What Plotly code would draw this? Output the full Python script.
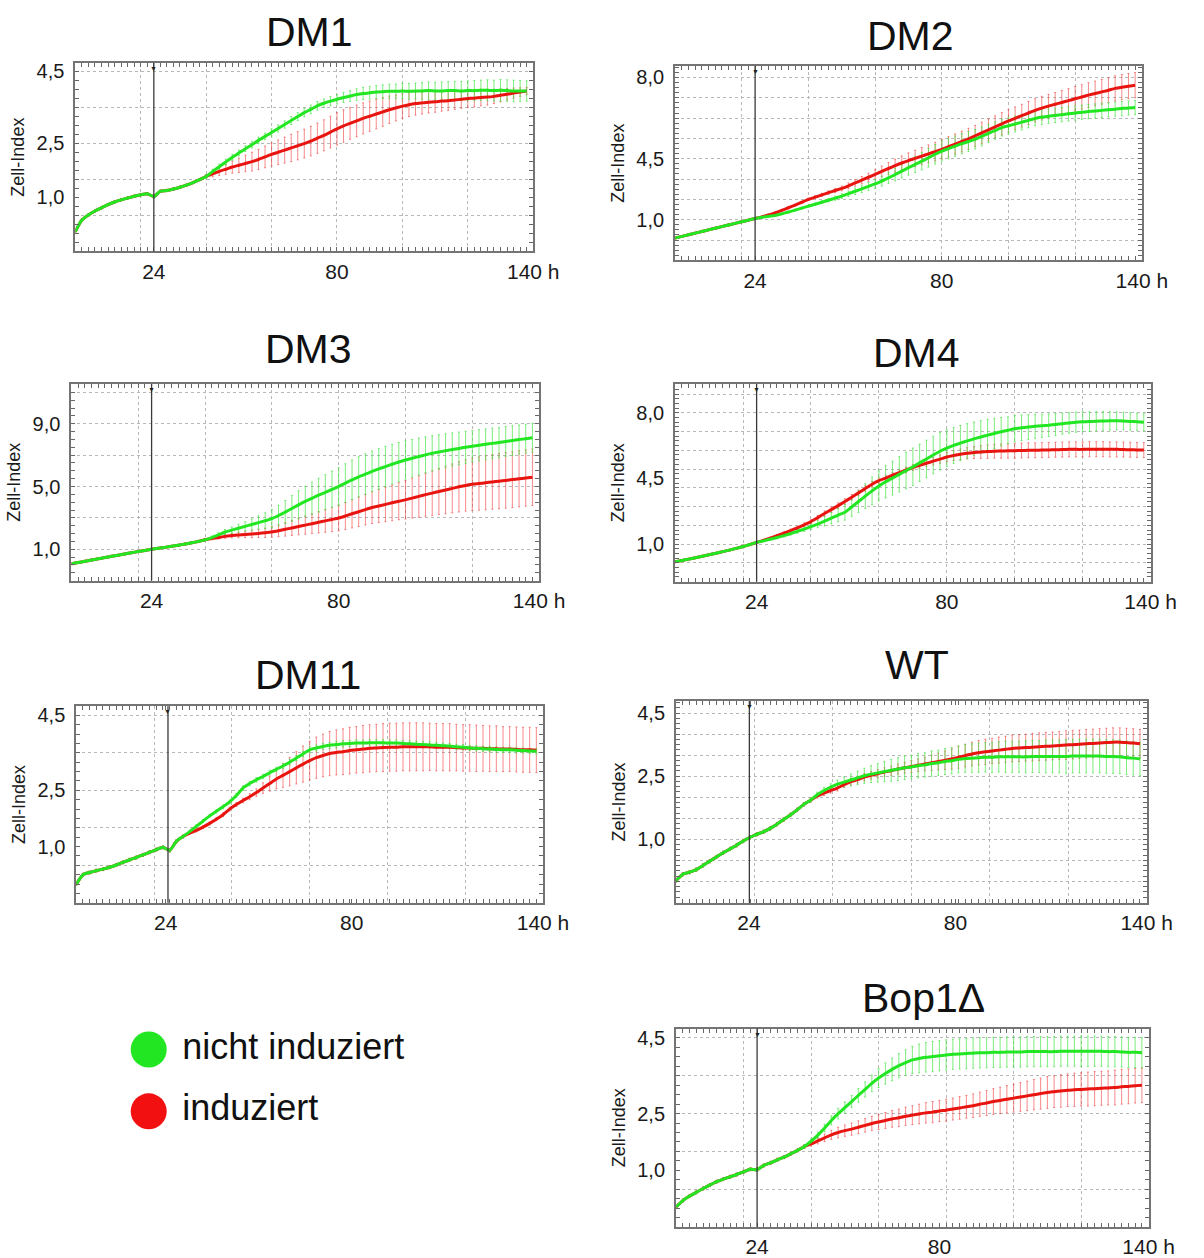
import plotly.graph_objects as go

W, H = 1204, 1258
FONT = "Liberation Sans, Arial, Helvetica, sans-serif"

# ---------------- data ----------------
HOURS = [0, 2, 4, 6, 8, 10, 12, 14, 16, 18,
         20, 22, 24, 26, 28, 30, 32, 34, 36, 38,
         40, 42, 44, 46, 48, 50, 52, 54, 56, 58,
         60, 62, 64, 66, 68, 70, 72, 74, 76, 78,
         80, 82, 84, 86, 88, 90, 92, 94, 96, 98,
         100, 102, 104, 106, 108, 110, 112, 114, 116, 118,
         120, 122, 124, 126, 128, 130, 132, 134, 136, 138]

X_TICK_TEXT = ["24", "80", "140 h"]
LEGEND_LABELS = ["nicht induziert", "induziert"]

# DM1
DM1_EARLY = [0.05, 0.37, 0.51, 0.62, 0.71, 0.80, 0.87, 0.93, 0.98, 1.03,
             1.07, 1.10, 1.02, 1.17, 1.19, 1.23, 1.28, 1.34, 1.41, 1.49,
             1.58]
DM1_GREEN_LATE = [1.72, 1.85, 1.98, 2.11, 2.23, 2.35, 2.46, 2.58, 2.69,
                  2.80, 2.91, 3.02, 3.13, 3.24, 3.35, 3.44, 3.54, 3.61, 3.67,
                  3.72, 3.77, 3.81, 3.85, 3.88, 3.90, 3.92, 3.93, 3.94, 3.94,
                  3.95, 3.94, 3.95, 3.95, 3.96, 3.95, 3.95, 3.96, 3.96, 3.95,
                  3.96, 3.96, 3.97, 3.97, 3.96, 3.97, 3.96, 3.95, 3.95, 3.95]
DM1_RED_LATE = [1.65, 1.72, 1.78, 1.84, 1.89, 1.94, 1.99, 2.05, 2.12,
                2.19, 2.25, 2.31, 2.37, 2.43, 2.49, 2.56, 2.64, 2.72, 2.81,
                2.90, 2.98, 3.05, 3.12, 3.19, 3.25, 3.31, 3.37, 3.43, 3.48,
                3.53, 3.57, 3.60, 3.62, 3.64, 3.65, 3.67, 3.68, 3.70, 3.72,
                3.74, 3.75, 3.77, 3.78, 3.80, 3.83, 3.86, 3.89, 3.92, 3.95]
DM1_GREEN_ERR = [0.03, 0.03, 0.03, 0.03, 0.03, 0.03, 0.03, 0.03, 0.03, 0.03,
                 0.03, 0.03, 0.04, 0.03, 0.03, 0.03, 0.03, 0.03, 0.03, 0.03,
                 0.05, 0.06, 0.07, 0.08, 0.08, 0.08, 0.08, 0.09, 0.09, 0.09,
                 0.10, 0.10, 0.10, 0.11, 0.11, 0.12, 0.12, 0.12, 0.12, 0.13,
                 0.13, 0.14, 0.15, 0.16, 0.17, 0.18, 0.18, 0.19, 0.20, 0.20,
                 0.21, 0.22, 0.22, 0.23, 0.24, 0.24, 0.25, 0.25, 0.26, 0.26,
                 0.27, 0.28, 0.28, 0.29, 0.29, 0.30, 0.30, 0.30, 0.29, 0.28]
DM1_RED_ERR = [0.03, 0.03, 0.03, 0.03, 0.03, 0.03, 0.03, 0.03, 0.03, 0.03,
               0.03, 0.03, 0.04, 0.03, 0.03, 0.03, 0.03, 0.03, 0.03, 0.03,
               0.05, 0.08, 0.11, 0.14, 0.17, 0.20, 0.23, 0.26, 0.28, 0.30,
               0.32, 0.34, 0.36, 0.38, 0.39, 0.40, 0.41, 0.42, 0.43, 0.44,
               0.45, 0.45, 0.44, 0.44, 0.43, 0.42, 0.41, 0.40, 0.38, 0.36,
               0.34, 0.33, 0.32, 0.31, 0.30, 0.29, 0.28, 0.27, 0.26, 0.25,
               0.25, 0.24, 0.23, 0.22, 0.20, 0.18, 0.16, 0.14, 0.12, 0.10]

# DM2
DM2_EARLY = [0.10, 0.18, 0.26, 0.34, 0.42, 0.50, 0.58, 0.66, 0.74, 0.82,
             0.90, 0.98, 1.06]
DM2_RED_LATE = [1.14, 1.23, 1.34, 1.46, 1.59, 1.72, 1.86,
                2.00, 2.11, 2.22, 2.33, 2.44, 2.54, 2.67, 2.81, 2.95, 3.09,
                3.23, 3.38, 3.52, 3.66, 3.79, 3.91, 4.02, 4.13, 4.24, 4.35,
                4.46, 4.59, 4.72, 4.85, 4.98, 5.12, 5.27, 5.42, 5.57, 5.72,
                5.86, 5.99, 6.12, 6.25, 6.38, 6.49, 6.59, 6.68, 6.77, 6.86,
                6.95, 7.04, 7.13, 7.21, 7.29, 7.37, 7.46, 7.52, 7.57, 7.62]
DM2_GREEN_LATE = [1.12, 1.17, 1.21, 1.29, 1.38, 1.47, 1.57,
                  1.67, 1.76, 1.86, 1.96, 2.06, 2.16, 2.28, 2.40, 2.52, 2.64,
                  2.76, 2.90, 3.06, 3.22, 3.39, 3.56, 3.72, 3.88, 4.05, 4.22,
                  4.38, 4.50, 4.62, 4.74, 4.85, 4.96, 5.10, 5.25, 5.39, 5.53,
                  5.62, 5.71, 5.80, 5.89, 5.98, 6.05, 6.09, 6.13, 6.17, 6.21,
                  6.25, 6.29, 6.32, 6.35, 6.38, 6.41, 6.44, 6.47, 6.50, 6.52]
DM2_RED_ERR = [0.04, 0.04, 0.04, 0.04, 0.04, 0.04, 0.04, 0.04, 0.04, 0.04,
               0.04, 0.04, 0.04, 0.04, 0.04, 0.04, 0.05, 0.05, 0.05, 0.05,
               0.06, 0.07, 0.08, 0.09, 0.10, 0.12, 0.14, 0.16, 0.18, 0.20,
               0.23, 0.26, 0.29, 0.32, 0.35, 0.38, 0.40, 0.42, 0.44, 0.46,
               0.48, 0.50, 0.50, 0.51, 0.52, 0.52, 0.53, 0.54, 0.54, 0.55,
               0.55, 0.56, 0.56, 0.57, 0.57, 0.58, 0.58, 0.58, 0.59, 0.59,
               0.60, 0.60, 0.61, 0.61, 0.61, 0.62, 0.62, 0.62, 0.62, 0.62]
DM2_GREEN_ERR = [0.04, 0.04, 0.04, 0.04, 0.04, 0.04, 0.04, 0.04, 0.04, 0.04,
                 0.04, 0.04, 0.04, 0.04, 0.04, 0.04, 0.04, 0.04, 0.05, 0.05,
                 0.05, 0.06, 0.07, 0.08, 0.10, 0.12, 0.14, 0.16, 0.18, 0.20,
                 0.22, 0.25, 0.28, 0.31, 0.34, 0.37, 0.40, 0.43, 0.46, 0.48,
                 0.50, 0.50, 0.50, 0.50, 0.49, 0.48, 0.47, 0.45, 0.43, 0.41,
                 0.40, 0.39, 0.38, 0.37, 0.36, 0.36, 0.35, 0.35, 0.35, 0.35,
                 0.35, 0.35, 0.35, 0.35, 0.35, 0.35, 0.35, 0.35, 0.35, 0.35]

# DM3
DM3_EARLY = [0.07, 0.15, 0.23, 0.31, 0.39, 0.47, 0.55, 0.62, 0.70, 0.78,
             0.85, 0.92, 1.00, 1.06, 1.12, 1.19, 1.26, 1.33, 1.41, 1.50,
             1.60]
DM3_GREEN_LATE = [1.74, 1.92, 2.10, 2.22, 2.34, 2.46, 2.58, 2.70, 2.82,
                  2.95, 3.15, 3.37, 3.60, 3.83, 4.05, 4.25, 4.45, 4.63, 4.82,
                  5.00, 5.22, 5.43, 5.62, 5.79, 5.96, 6.12, 6.27, 6.42, 6.56,
                  6.69, 6.80, 6.91, 7.02, 7.12, 7.20, 7.28, 7.36, 7.43, 7.50,
                  7.57, 7.63, 7.69, 7.75, 7.81, 7.87, 7.93, 7.99, 8.05, 8.11]
DM3_RED_LATE = [1.68, 1.75, 1.82, 1.87, 1.91, 1.94, 1.97, 2.01, 2.05,
                2.10, 2.18, 2.27, 2.36, 2.45, 2.54, 2.63, 2.72, 2.81, 2.90,
                2.99, 3.12, 3.26, 3.39, 3.53, 3.66, 3.76, 3.86, 3.96, 4.06,
                4.15, 4.26, 4.37, 4.48, 4.58, 4.68, 4.78, 4.88, 4.98, 5.07,
                5.14, 5.19, 5.24, 5.29, 5.34, 5.39, 5.44, 5.49, 5.54, 5.59]
DM3_GREEN_ERR = [0.05, 0.05, 0.05, 0.05, 0.05, 0.05, 0.05, 0.05, 0.05, 0.05,
                 0.05, 0.05, 0.05, 0.05, 0.05, 0.05, 0.05, 0.06, 0.06, 0.07,
                 0.08, 0.10, 0.13, 0.16, 0.20, 0.25, 0.30, 0.36, 0.43, 0.50,
                 0.58, 0.66, 0.74, 0.82, 0.90, 0.97, 1.03, 1.08, 1.12, 1.16,
                 1.20, 1.23, 1.26, 1.28, 1.30, 1.30, 1.30, 1.29, 1.27, 1.25,
                 1.22, 1.20, 1.18, 1.15, 1.12, 1.10, 1.08, 1.06, 1.04, 1.02,
                 1.00, 0.99, 0.98, 0.97, 0.96, 0.95, 0.94, 0.93, 0.92, 0.92]
DM3_RED_ERR = [0.05, 0.05, 0.05, 0.05, 0.05, 0.05, 0.05, 0.05, 0.05, 0.05,
               0.05, 0.05, 0.05, 0.05, 0.05, 0.05, 0.05, 0.05, 0.05, 0.05,
               0.06, 0.08, 0.10, 0.12, 0.14, 0.17, 0.20, 0.23, 0.26, 0.30,
               0.34, 0.38, 0.43, 0.48, 0.53, 0.58, 0.63, 0.68, 0.73, 0.78,
               0.82, 0.86, 0.90, 0.94, 0.98, 1.02, 1.06, 1.10, 1.14, 1.18,
               1.22, 1.27, 1.32, 1.37, 1.42, 1.47, 1.52, 1.56, 1.60, 1.64,
               1.67, 1.70, 1.72, 1.74, 1.76, 1.77, 1.78, 1.79, 1.80, 1.80]

# DM4
DM4_EARLY = [0.06, 0.13, 0.20, 0.27, 0.35, 0.43, 0.51, 0.60, 0.68, 0.77,
             0.87, 0.98, 1.09]
DM4_RED_LATE = [1.20, 1.32, 1.45, 1.58, 1.72, 1.87, 2.03,
                2.20, 2.41, 2.63, 2.84, 3.05, 3.27, 3.50, 3.73, 3.96, 4.19,
                4.38, 4.52, 4.67, 4.81, 4.95, 5.08, 5.20, 5.31, 5.42, 5.53,
                5.64, 5.72, 5.79, 5.84, 5.88, 5.91, 5.93, 5.95, 5.96, 5.97,
                5.98, 5.99, 6.00, 6.00, 6.01, 6.02, 6.03, 6.04, 6.05, 6.05,
                6.05, 6.06, 6.06, 6.06, 6.05, 6.05, 6.04, 6.03, 6.02, 6.01]
DM4_GREEN_LATE = [1.17, 1.26, 1.35, 1.45, 1.56, 1.68, 1.80,
                  1.93, 2.07, 2.22, 2.38, 2.55, 2.70, 2.98, 3.27, 3.56, 3.84,
                  4.10, 4.32, 4.52, 4.72, 4.92, 5.12, 5.33, 5.54, 5.75, 5.95,
                  6.12, 6.26, 6.38, 6.50, 6.61, 6.71, 6.81, 6.90, 6.99, 7.07,
                  7.15, 7.20, 7.24, 7.28, 7.31, 7.34, 7.38, 7.42, 7.46, 7.50,
                  7.52, 7.53, 7.55, 7.56, 7.57, 7.57, 7.56, 7.54, 7.52, 7.50]
DM4_GREEN_ERR = [0.04, 0.04, 0.04, 0.04, 0.04, 0.04, 0.04, 0.04, 0.04, 0.04,
                 0.04, 0.04, 0.04, 0.05, 0.05, 0.06, 0.07, 0.08, 0.10, 0.12,
                 0.15, 0.20, 0.25, 0.30, 0.36, 0.42, 0.50, 0.58, 0.66, 0.74,
                 0.80, 0.86, 0.90, 0.94, 0.97, 1.00, 1.00, 1.00, 1.00, 1.00,
                 0.98, 0.96, 0.94, 0.92, 0.90, 0.87, 0.84, 0.80, 0.76, 0.72,
                 0.70, 0.68, 0.66, 0.64, 0.62, 0.60, 0.58, 0.56, 0.55, 0.54,
                 0.53, 0.52, 0.51, 0.50, 0.49, 0.48, 0.47, 0.46, 0.45, 0.45]
DM4_RED_ERR = [0.04, 0.04, 0.04, 0.04, 0.04, 0.04, 0.04, 0.04, 0.04, 0.04,
               0.04, 0.04, 0.04, 0.05, 0.05, 0.06, 0.07, 0.08, 0.09, 0.10,
               0.10, 0.12, 0.14, 0.15, 0.15, 0.15, 0.15, 0.15, 0.15, 0.15,
               0.15, 0.15, 0.15, 0.15, 0.15, 0.15, 0.16, 0.18, 0.20, 0.22,
               0.24, 0.26, 0.28, 0.30, 0.32, 0.34, 0.36, 0.37, 0.38, 0.39,
               0.40, 0.40, 0.40, 0.40, 0.40, 0.40, 0.40, 0.40, 0.40, 0.40,
               0.40, 0.40, 0.40, 0.40, 0.40, 0.40, 0.40, 0.40, 0.40, 0.40]

# DM11
DM11_EARLY = [0.00, 0.25, 0.31, 0.36, 0.40, 0.45, 0.51, 0.58, 0.65, 0.71,
              0.78, 0.85, 0.92, 0.98, 0.90, 1.14, 1.27]
DM11_GREEN_LATE = [1.40, 1.54, 1.68,
                   1.82, 1.94, 2.06, 2.19, 2.36, 2.56, 2.68, 2.78, 2.87, 2.97,
                   3.06, 3.15, 3.25, 3.36, 3.47, 3.58, 3.63, 3.67, 3.70, 3.72,
                   3.74, 3.75, 3.76, 3.76, 3.77, 3.77, 3.77, 3.76, 3.76, 3.75,
                   3.74, 3.73, 3.72, 3.71, 3.70, 3.69, 3.68, 3.66, 3.65, 3.63,
                   3.62, 3.61, 3.60, 3.59, 3.58, 3.58, 3.57, 3.56, 3.55, 3.54]
DM11_RED_LATE = [1.36, 1.43, 1.52,
                 1.62, 1.73, 1.85, 2.00, 2.12, 2.23, 2.33, 2.44, 2.56, 2.68,
                 2.80, 2.90, 3.00, 3.10, 3.20, 3.29, 3.37, 3.43, 3.48, 3.51,
                 3.53, 3.56, 3.58, 3.60, 3.62, 3.63, 3.64, 3.65, 3.65, 3.66,
                 3.66, 3.66, 3.66, 3.66, 3.65, 3.65, 3.65, 3.64, 3.63, 3.63,
                 3.62, 3.62, 3.61, 3.61, 3.60, 3.60, 3.59, 3.58, 3.58, 3.57]
DM11_GREEN_ERR = [0.04, 0.04, 0.04, 0.04, 0.04, 0.04, 0.04, 0.04, 0.04, 0.04,
                  0.04, 0.04, 0.04, 0.04, 0.05, 0.04, 0.04, 0.04, 0.04, 0.04,
                  0.04, 0.04, 0.05, 0.05, 0.05, 0.06, 0.06, 0.06, 0.06, 0.06,
                  0.06, 0.07, 0.07, 0.07, 0.07, 0.08, 0.08, 0.08, 0.08, 0.08,
                  0.08, 0.08, 0.08, 0.08, 0.08, 0.08, 0.08, 0.08, 0.08, 0.08,
                  0.08, 0.08, 0.08, 0.08, 0.08, 0.07, 0.07, 0.07, 0.07, 0.07,
                  0.07, 0.07, 0.07, 0.07, 0.07, 0.07, 0.07, 0.07, 0.07, 0.07]
DM11_RED_ERR = [0.04, 0.04, 0.04, 0.04, 0.04, 0.04, 0.04, 0.04, 0.04, 0.04,
                0.04, 0.04, 0.04, 0.04, 0.05, 0.04, 0.04, 0.04, 0.04, 0.04,
                0.04, 0.04, 0.05, 0.05, 0.05, 0.06, 0.08, 0.10, 0.14, 0.20,
                0.26, 0.32, 0.38, 0.43, 0.48, 0.52, 0.55, 0.57, 0.59, 0.60,
                0.61, 0.62, 0.62, 0.63, 0.63, 0.63, 0.64, 0.64, 0.64, 0.64,
                0.64, 0.64, 0.64, 0.63, 0.63, 0.63, 0.63, 0.62, 0.62, 0.62,
                0.62, 0.61, 0.61, 0.61, 0.60, 0.60, 0.60, 0.60, 0.60, 0.60]

# WT
WT_EARLY = [0.02, 0.17, 0.22, 0.28, 0.38, 0.48, 0.58, 0.68, 0.77, 0.86,
            0.96, 1.05, 1.12, 1.18, 1.26, 1.36, 1.47, 1.58, 1.70, 1.83,
            1.93]
WT_GREEN_LATE = [2.06, 2.16, 2.24, 2.31, 2.36, 2.41, 2.46, 2.51, 2.55,
                 2.58, 2.61, 2.64, 2.67, 2.70, 2.72, 2.75, 2.77, 2.80, 2.82,
                 2.85, 2.87, 2.90, 2.92, 2.93, 2.94, 2.95, 2.95, 2.96, 2.96,
                 2.96, 2.96, 2.96, 2.97, 2.97, 2.97, 2.97, 2.97, 2.97, 2.98,
                 2.98, 2.98, 2.98, 2.98, 2.97, 2.97, 2.96, 2.94, 2.93, 2.91]
WT_RED_LATE = [2.03, 2.10, 2.16, 2.22, 2.30, 2.37, 2.42, 2.48, 2.52,
               2.56, 2.60, 2.63, 2.67, 2.70, 2.73, 2.76, 2.79, 2.82, 2.85,
               2.88, 2.91, 2.95, 2.99, 3.03, 3.06, 3.08, 3.10, 3.12, 3.14,
               3.16, 3.17, 3.18, 3.19, 3.20, 3.21, 3.22, 3.23, 3.24, 3.25,
               3.26, 3.27, 3.28, 3.29, 3.30, 3.31, 3.31, 3.30, 3.29, 3.27]
WT_GREEN_ERR = [0.04, 0.04, 0.04, 0.04, 0.04, 0.04, 0.04, 0.04, 0.04, 0.04,
                0.04, 0.04, 0.04, 0.04, 0.04, 0.04, 0.04, 0.04, 0.04, 0.04,
                0.05, 0.06, 0.07, 0.08, 0.10, 0.12, 0.14, 0.16, 0.18, 0.20,
                0.22, 0.24, 0.26, 0.27, 0.28, 0.28, 0.29, 0.29, 0.30, 0.30,
                0.31, 0.31, 0.32, 0.33, 0.34, 0.35, 0.35, 0.36, 0.36, 0.37,
                0.37, 0.37, 0.38, 0.38, 0.38, 0.39, 0.39, 0.39, 0.40, 0.40,
                0.40, 0.40, 0.40, 0.40, 0.40, 0.40, 0.40, 0.40, 0.40, 0.40]
WT_RED_ERR = [0.04, 0.04, 0.04, 0.04, 0.04, 0.04, 0.04, 0.04, 0.04, 0.04,
              0.04, 0.04, 0.04, 0.04, 0.04, 0.04, 0.04, 0.04, 0.04, 0.04,
              0.05, 0.05, 0.06, 0.06, 0.07, 0.07, 0.08, 0.08, 0.09, 0.09,
              0.10, 0.10, 0.11, 0.12, 0.13, 0.14, 0.15, 0.16, 0.18, 0.20,
              0.22, 0.24, 0.26, 0.27, 0.28, 0.29, 0.30, 0.30, 0.31, 0.31,
              0.32, 0.32, 0.32, 0.33, 0.33, 0.33, 0.33, 0.33, 0.34, 0.34,
              0.34, 0.34, 0.34, 0.34, 0.34, 0.34, 0.34, 0.34, 0.34, 0.34]

# Bop1 delta
BOP_EARLY = [0.03, 0.20, 0.32, 0.42, 0.52, 0.61, 0.70, 0.77, 0.83, 0.89,
             0.96, 1.03, 1.02, 1.13, 1.20, 1.28, 1.35, 1.44, 1.53, 1.63]
BOP_GREEN_LATE = [1.77, 1.93, 2.12, 2.32, 2.50, 2.66, 2.82, 2.98, 3.14, 3.30,
                  3.44, 3.56, 3.67, 3.77, 3.85, 3.92, 3.96, 3.99, 4.01, 4.03,
                  4.05, 4.07, 4.08, 4.09, 4.10, 4.11, 4.11, 4.12, 4.12, 4.13,
                  4.13, 4.13, 4.14, 4.14, 4.14, 4.14, 4.14, 4.15, 4.15, 4.15,
                  4.15, 4.15, 4.15, 4.15, 4.14, 4.14, 4.13, 4.12, 4.12, 4.11]
BOP_RED_LATE = [1.70, 1.78, 1.86, 1.94, 2.00, 2.05, 2.09, 2.14, 2.19, 2.24,
                2.28, 2.32, 2.36, 2.39, 2.43, 2.46, 2.49, 2.52, 2.54, 2.57,
                2.59, 2.62, 2.65, 2.68, 2.71, 2.75, 2.78, 2.82, 2.85, 2.88,
                2.91, 2.94, 2.97, 3.00, 3.03, 3.06, 3.08, 3.10, 3.12, 3.13,
                3.14, 3.15, 3.16, 3.17, 3.18, 3.19, 3.21, 3.22, 3.24, 3.25]
BOP_GREEN_ERR = [0.04, 0.04, 0.04, 0.04, 0.04, 0.04, 0.04, 0.04, 0.04, 0.04,
                 0.04, 0.04, 0.05, 0.04, 0.04, 0.04, 0.04, 0.04, 0.04, 0.05,
                 0.06, 0.08, 0.10, 0.12, 0.14, 0.15, 0.16, 0.18, 0.20, 0.22,
                 0.25, 0.28, 0.30, 0.32, 0.34, 0.36, 0.38, 0.39, 0.40, 0.40,
                 0.40, 0.40, 0.40, 0.40, 0.40, 0.40, 0.40, 0.40, 0.40, 0.40,
                 0.40, 0.40, 0.40, 0.40, 0.40, 0.40, 0.40, 0.40, 0.40, 0.40,
                 0.40, 0.40, 0.40, 0.40, 0.40, 0.40, 0.40, 0.40, 0.40, 0.40]
BOP_RED_ERR = [0.04, 0.04, 0.04, 0.04, 0.04, 0.04, 0.04, 0.04, 0.04, 0.04,
               0.04, 0.04, 0.05, 0.04, 0.04, 0.04, 0.04, 0.04, 0.04, 0.05,
               0.06, 0.08, 0.10, 0.12, 0.14, 0.15, 0.16, 0.17, 0.18, 0.19,
               0.20, 0.21, 0.22, 0.23, 0.24, 0.25, 0.26, 0.27, 0.28, 0.28,
               0.29, 0.29, 0.30, 0.30, 0.31, 0.32, 0.33, 0.34, 0.35, 0.36,
               0.37, 0.38, 0.39, 0.40, 0.41, 0.42, 0.42, 0.43, 0.43, 0.44,
               0.44, 0.45, 0.45, 0.45, 0.45, 0.46, 0.46, 0.46, 0.46, 0.46]

# y tick labels per panel (value where the label sits, text)
DM1_Y_TICKS, DM1_Y_TEXT = [1.0, 2.5, 4.5], ["1,0", "2,5", "4,5"]
DM2_Y_TICKS, DM2_Y_TEXT = [1.0, 4.0, 8.0], ["1,0", "4,5", "8,0"]
DM3_Y_TICKS, DM3_Y_TEXT = [1.0, 5.0, 9.0], ["1,0", "5,0", "9,0"]
DM4_Y_TICKS, DM4_Y_TEXT = [1.0, 4.5, 8.0], ["1,0", "4,5", "8,0"]
DM11_Y_TICKS, DM11_Y_TEXT = [1.0, 2.5, 4.5], ["1,0", "2,5", "4,5"]
WT_Y_TICKS, WT_Y_TEXT = [1.0, 2.5, 4.0], ["1,0", "2,5", "4,5"]
BOP_Y_TICKS, BOP_Y_TEXT = [1.0, 2.5, 4.5], ["1,0", "2,5", "4,5"]

# ---------------- styling / layout config ----------------
GREEN_LINE = "#22e622"
RED_LINE = "#e8140f"
GREEN_ERR = "rgba(70,228,70,0.7)"
RED_ERR = "rgba(240,60,60,0.6)"

PANELS = [
    dict(title="DM1", green=DM1_EARLY + DM1_GREEN_LATE, red=DM1_EARLY + DM1_RED_LATE,
         gerr=DM1_GREEN_ERR, rerr=DM1_RED_ERR, yt=DM1_Y_TICKS, ytx=DM1_Y_TEXT,
         box=(77, 60, 545, 249), tpos=(316, 29), yr=(-0.5, 4.73), yg=(0.5, 1.0),
         xg=20, ev=24, xl=[24, 80, 140]),
    dict(title="DM2", green=DM2_EARLY + DM2_GREEN_LATE, red=DM2_EARLY + DM2_RED_LATE,
         gerr=DM2_GREEN_ERR, rerr=DM2_RED_ERR, yt=DM2_Y_TICKS, ytx=DM2_Y_TEXT,
         box=(690, 63, 1167, 258), tpos=(931, 33), yr=(-1.0, 8.57), yg=(0.0, 1.0),
         xg=20, ev=24, xl=[24, 80, 140]),
    dict(title="DM3", green=DM3_EARLY + DM3_GREEN_LATE, red=DM3_EARLY + DM3_RED_LATE,
         gerr=DM3_GREEN_ERR, rerr=DM3_RED_ERR, yt=DM3_Y_TICKS, ytx=DM3_Y_TEXT,
         box=(73, 382, 551, 579), tpos=(315, 347), yr=(-1.0, 11.53), yg=(1.0, 2.0),
         xg=20, ev=24, xl=[24, 80, 140]),
    dict(title="DM4", green=DM4_EARLY + DM4_GREEN_LATE, red=DM4_EARLY + DM4_RED_LATE,
         gerr=DM4_GREEN_ERR, rerr=DM4_RED_ERR, yt=DM4_Y_TICKS, ytx=DM4_Y_TEXT,
         box=(690, 382, 1176, 580), tpos=(937, 351), yr=(-1.0, 9.53), yg=(0.0, 1.0),
         xg=20, ev=24, xl=[24, 80, 140]),
    dict(title="DM11", green=DM11_EARLY + DM11_GREEN_LATE, red=DM11_EARLY + DM11_RED_LATE,
         gerr=DM11_GREEN_ERR, rerr=DM11_RED_ERR, yt=DM11_Y_TICKS, ytx=DM11_Y_TEXT,
         box=(78, 705, 555, 902), tpos=(315, 674), yr=(-0.5, 4.74), yg=(0.5, 1.0),
         xg=140 / 6, ev=27.5, xl=[26.8, 82.6, 140]),
    dict(title="WT", green=WT_EARLY + WT_GREEN_LATE, red=WT_EARLY + WT_RED_LATE,
         gerr=WT_GREEN_ERR, rerr=WT_RED_ERR, yt=WT_Y_TICKS, ytx=WT_Y_TEXT,
         box=(691, 700, 1172, 902), tpos=(937, 664), yr=(-0.51, 4.28), yg=(0.0, 0.5),
         xg=140 / 6, ev=21.8, xl=[21.7, 83.1, 140]),
    dict(title="Bop1Δ", green=BOP_EARLY + BOP_GREEN_LATE, red=BOP_EARLY + BOP_RED_LATE,
         gerr=BOP_GREEN_ERR, rerr=BOP_RED_ERR, yt=BOP_Y_TICKS, ytx=BOP_Y_TEXT,
         box=(691, 1028, 1174, 1227), tpos=(944, 997), yr=(-0.5, 4.75), yg=(0.5, 1.0),
         xg=20, ev=24, xl=[24, 78, 140]),
]

for p in PANELS:
    for k in ("green", "red", "gerr", "rerr"):
        if len(p[k]) != len(HOURS):
            raise ValueError(f"{p['title']} {k}: {len(p[k])} != {len(HOURS)}")

fig = go.Figure()
layout = dict(width=W, height=H, autosize=False, margin=dict(l=0, r=0, t=0, b=0),
              paper_bgcolor="white", plot_bgcolor="white", showlegend=False,
              hovermode=False, font=dict(family=FONT, color="#1a1a1a"))
shapes, annotations = [], []

AXIS_LINE = dict(showline=True, linecolor="#747474", linewidth=2, mirror="ticks",
                 ticks="inside", ticklen=4, tickwidth=1, tickcolor="#666666",
                 showgrid=False, zeroline=False, fixedrange=True)
GRID = dict(tickmode="linear", ticks="outside", ticklen=0, showgrid=True,
            gridcolor="#b8b8b8", griddash="dot", gridwidth=1)

for i, p in enumerate(PANELS, start=1):
    sfx = "" if i == 1 else str(i)
    xr, yr = "x" + sfx, "y" + sfx
    x0, y0, x1, y1 = p["box"]

    # x ticks: fine border ticks every 2 h plus the three labelled positions
    fine_x = list(range(0, 141, 2))
    xvals = sorted(set(fine_x) | set(p["xl"]))
    xtext = [X_TICK_TEXT[p["xl"].index(v)] if v in p["xl"] else "" for v in xvals]

    g0, gd = p["yg"]
    step = gd / 4
    lo, hi = p["yr"]
    k0 = int((lo - g0) / step) - 1
    k1 = int((hi - g0) / step) + 1
    fine_y = [round(g0 + k * step, 4) for k in range(k0, k1 + 1) if lo <= g0 + k * step <= hi]
    yvals = sorted(set(fine_y) | set(p["yt"]))
    ytext = [p["ytx"][p["yt"].index(v)] if v in p["yt"] else "" for v in yvals]

    layout["xaxis" + sfx] = dict(
        AXIS_LINE, domain=[x0 / W, x1 / W], anchor=yr, range=[0, 140],
        tickmode="array", tickvals=xvals, ticktext=xtext,
        tickfont=dict(family=FONT, size=21, color="#1a1a1a"), ticklabelstandoff=0,
        minor=dict(GRID, tick0=0, dtick=p["xg"]))
    layout["yaxis" + sfx] = dict(
        AXIS_LINE, domain=[1 - y1 / H, 1 - y0 / H], anchor=xr, range=list(p["yr"]),
        tickmode="array", tickvals=yvals, ticktext=ytext,
        tickfont=dict(family=FONT, size=20, color="#1a1a1a"), ticklabelstandoff=5,
        title=dict(text="Zell-Index", font=dict(family=FONT, size=18, color="#1a1a1a"),
                   standoff=7),
        minor=dict(GRID, tick0=g0, dtick=gd))

    # error bars (drawn first)
    for vals, err, col in ((p["red"], p["rerr"], RED_ERR), (p["green"], p["gerr"], GREEN_ERR)):
        fig.add_trace(go.Scatter(
            x=HOURS, y=vals, mode="markers", xaxis=xr, yaxis=yr,
            marker=dict(size=1, color="rgba(0,0,0,0)"),
            error_y=dict(type="data", array=err, visible=True, color=col,
                         thickness=1, width=1),
            hoverinfo="skip", showlegend=False))
    # mean curves
    for vals, col, name in ((p["red"], RED_LINE, LEGEND_LABELS[1]),
                            (p["green"], GREEN_LINE, LEGEND_LABELS[0])):
        fig.add_trace(go.Scatter(
            x=HOURS, y=vals, mode="lines", xaxis=xr, yaxis=yr, name=name,
            line=dict(color=col, width=3, shape="spline", smoothing=0.6),
            showlegend=False))

    # event (normalisation) line at medium change
    shapes.append(dict(type="line", xref=xr, yref=yr + " domain", x0=p["ev"], x1=p["ev"],
                       y0=0, y1=1, line=dict(color="#3a3a3a", width=1.3), layer="above"))
    annotations.append(dict(text="▼", x=p["ev"], xref=xr, y=1, yref=yr + " domain",
                            yanchor="top", xanchor="center", showarrow=False,
                            font=dict(size=7, color="#222")))
    # panel title
    tx, ty = p["tpos"]
    annotations.append(dict(text=p["title"], x=tx / W, y=1 - ty / H, xref="paper", yref="paper",
                            xanchor="center", yanchor="middle", showarrow=False,
                            font=dict(family=FONT, size=41, color="#111")))

# legend block (bottom left)
LEG = len(PANELS) + 1
layout[f"xaxis{LEG}"] = dict(domain=[110 / W, 500 / W], range=[-1.05, 8.7], visible=False,
                             anchor=f"y{LEG}", fixedrange=True)
layout[f"yaxis{LEG}"] = dict(domain=[1 - 1142 / H, 1 - 1018 / H], range=[-0.5, 1.5],
                             visible=False, anchor=f"x{LEG}", type="category",
                             categoryorder="array", categoryarray=LEGEND_LABELS[::-1],
                             fixedrange=True)
fig.add_trace(go.Scatter(
    x=[0, 0], y=LEGEND_LABELS, text=[" " + t for t in LEGEND_LABELS],
    mode="markers+text", textposition="middle right",
    marker=dict(size=36, color=[GREEN_LINE, "#f21010"]),
    textfont=dict(family=FONT, size=36, color="#111"),
    xaxis=f"x{LEG}", yaxis=f"y{LEG}", showlegend=False, cliponaxis=False))

layout["shapes"] = shapes
layout["annotations"] = annotations
fig.update_layout(**layout)
fig.write_html("out.html")
